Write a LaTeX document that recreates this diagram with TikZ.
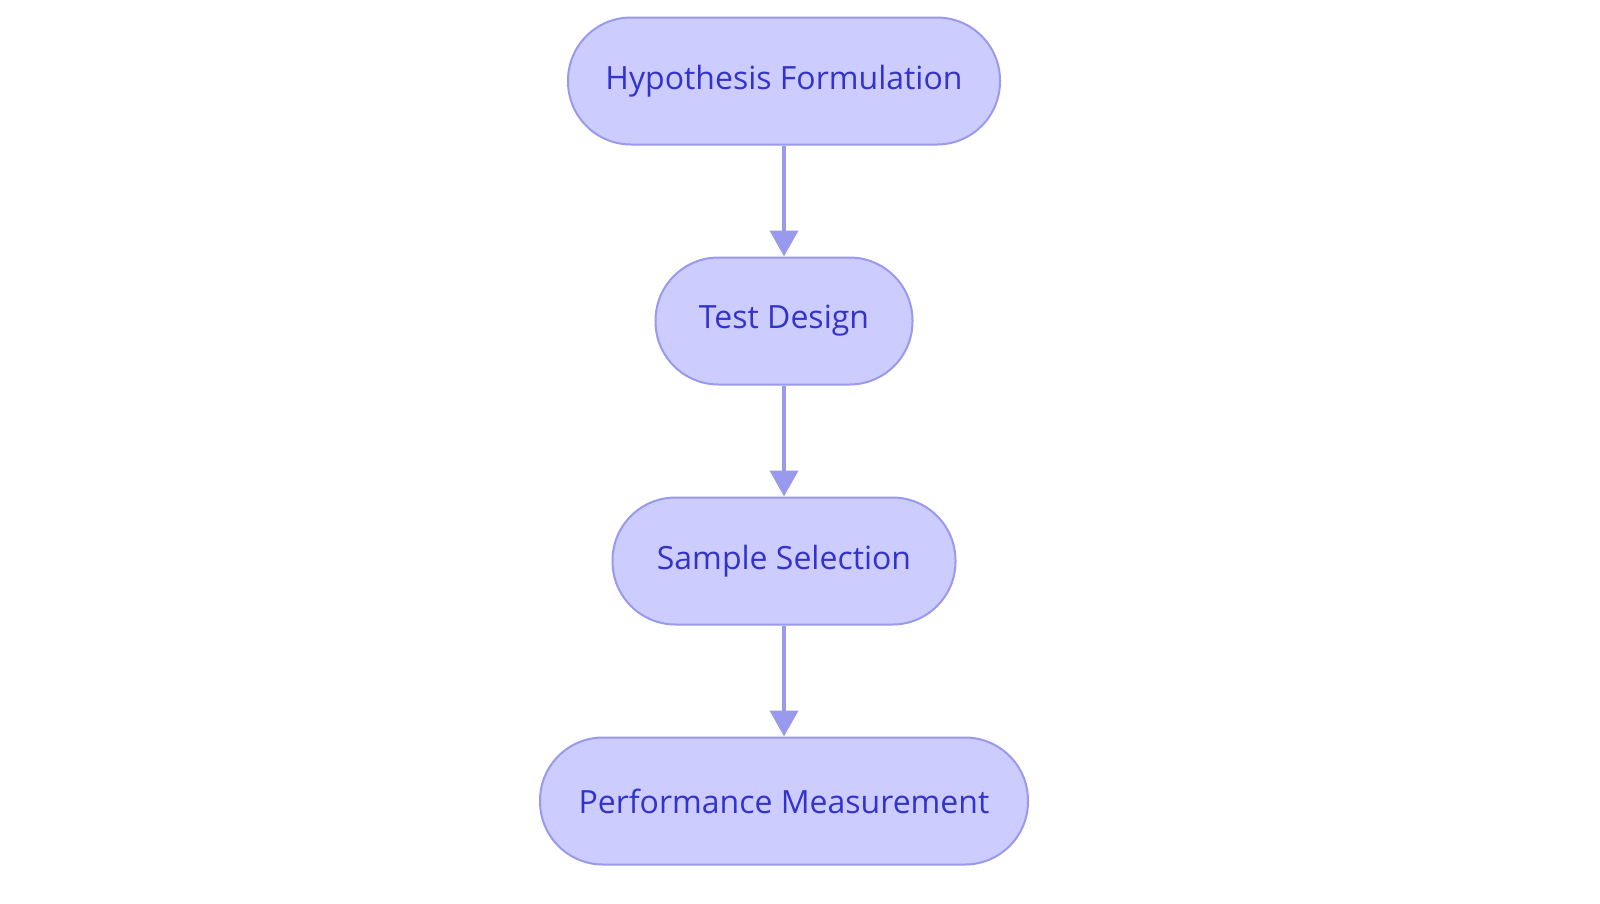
\documentclass[tikz,border=0pt]{standalone}
\usepackage{fontspec}
\setmainfont{Open Sans}
\usetikzlibrary{arrows.meta}
\definecolor{nfill}{HTML}{CCCCFF}
\definecolor{nline}{HTML}{9999EE}
\definecolor{ntext}{HTML}{3333CC}
\begin{document}
\begin{tikzpicture}[x=1pt,y=-1pt,
  box/.style={draw=nline,fill=nfill,line width=2pt,rounded corners=63pt,minimum height=127pt,text=ntext,font=\fontsize{32}{38}\selectfont,inner sep=0pt},
  arr/.style={draw=nline,line width=4pt,-{Triangle[width=28pt,length=26pt]}}]
\useasboundingbox (0,0) rectangle (1600,903);
\node[box,minimum width=432pt] (a) at (784,81) {Hypothesis Formulation};
\node[box,minimum width=257pt] (b) at (784,321) {Test Design};
\node[box,minimum width=343pt] (c) at (784,561) {Sample Selection};
\node[box,minimum width=488pt] (d) at (784,801) {Performance Measurement};
\draw[arr] (a) -- (b);
\draw[arr] (b) -- (c);
\draw[arr] (c) -- (d);
\end{tikzpicture}
\end{document}
